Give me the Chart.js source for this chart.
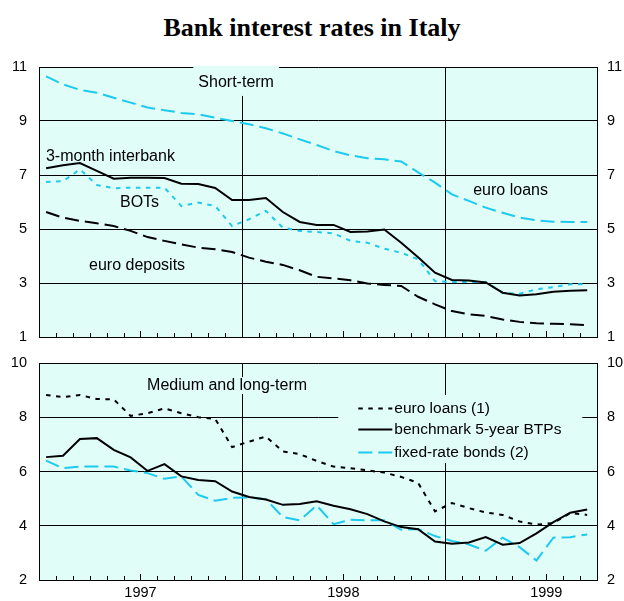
<!DOCTYPE html>
<html>
<head>
<meta charset="utf-8">
<title>Bank interest rates in Italy</title>
<script src="https://cdn.jsdelivr.net/npm/chart.js@4.4.1/dist/chart.umd.min.js"></script>
<style>
  html, body { margin: 0; padding: 0; background: #ffffff; }
  #wrap { position: relative; width: 624px; height: 601px; overflow: hidden; }
  #wrap canvas { position: absolute; left: 0; top: 0; }
  #title {
    position: absolute; left: 0; top: 13px; width: 624px;
    text-align: center; font: bold 26px "Liberation Serif", "Times New Roman", serif;
    line-height: 30px; color: #000;
  }
</style>
</head>
<body>
<div id="wrap">
  <div id="title">Bank interest rates in Italy</div>
  <canvas id="shortTerm" width="624" height="601"></canvas>
  <canvas id="longTerm" width="624" height="601"></canvas>
</div>
<script>
// Monthly observations, January 1997 to September 1999
const monthCount = 33;
const yearLabels = ['1997', '1998', '1999'];
const yearMidMonths = [6, 18, 30];
const yearBoundaries = [12, 24];

// Short-term rates (%)
const euroLoansShort = [10.65, 10.36, 10.15, 10.05, 9.86, 9.68, 9.50, 9.40, 9.30, 9.25, 9.12, 9.00,
                        8.88, 8.73, 8.54, 8.32, 8.11, 7.89, 7.73, 7.62, 7.58, 7.50, 7.10,
                        6.72, 6.28, 6.04, 5.79, 5.60, 5.42, 5.32, 5.27, 5.26, 5.26];
const interbank3m    = [7.25, 7.36, 7.44, 7.15, 6.86, 6.90, 6.90, 6.89, 6.68, 6.67, 6.52, 6.07,
                        6.07, 6.15, 5.63, 5.26, 5.15, 5.15, 4.89, 4.91, 4.98, 4.49, 3.95,
                        3.38, 3.11, 3.09, 3.02, 2.64, 2.54, 2.58, 2.68, 2.71, 2.73];
const bots           = [6.74, 6.77, 7.21, 6.63, 6.51, 6.53, 6.53, 6.53, 5.85, 5.98, 5.85, 5.11,
                        5.36, 5.67, 5.05, 4.93, 4.89, 4.84, 4.56, 4.49, 4.27, 4.12, 3.88,
                        3.07, 3.04, 3.04, 3.04, 2.64, 2.60, 2.77, 2.85, 2.95, 2.95];
const euroDeposits   = [5.63, 5.42, 5.30, 5.21, 5.11, 4.93, 4.70, 4.56, 4.43, 4.31, 4.25, 4.15,
                        3.94, 3.79, 3.67, 3.47, 3.23, 3.17, 3.10, 2.98, 2.93, 2.89, 2.49,
                        2.21, 1.96, 1.84, 1.78, 1.65, 1.56, 1.51, 1.49, 1.47, 1.44];

// Medium and long-term rates (%)
const euroLoansLong  = [8.82, 8.74, 8.82, 8.67, 8.66, 8.05, 8.15, 8.33, 8.15, 8.00, 7.94, 6.90,
                        7.10, 7.29, 6.74, 6.64, 6.39, 6.18, 6.12, 6.04, 5.96, 5.80, 5.58,
                        4.53, 4.84, 4.65, 4.49, 4.40, 4.16, 4.04, 4.10, 4.47, 4.40];
const btp5y          = [6.53, 6.58, 7.20, 7.23, 6.80, 6.52, 6.02, 6.27, 5.82, 5.69, 5.64, 5.26,
                        5.06, 4.97, 4.77, 4.80, 4.90, 4.74, 4.61, 4.43, 4.16, 3.95, 3.87,
                        3.42, 3.34, 3.38, 3.58, 3.30, 3.36, 3.72, 4.13, 4.48, 4.60];
const fixedRateBonds = [6.40, 6.12, 6.18, 6.18, 6.18, 6.04, 5.94, 5.73, 5.82, 5.14, 4.92, 5.03,
                        5.04, 4.98, 4.32, 4.20, 4.75, 4.06, 4.22, 4.20, 4.20, 3.85, 3.88,
                        3.62, 3.44, 3.31, 3.08, 3.56, 3.21, 2.72, 3.56, 3.58, 3.68];

const PANEL_BG = '#e1fdf8';
const CYAN = '#1ccaee';
const BLACK = '#000000';
const SANS = '"Liberation Sans", Arial, sans-serif';
const DASH = [14, 6];
const DOT = [4.5, 5.5];

// Background, year dividers, inside month ticks, text labels and key
const panelDecor = {
  id: 'panelDecor',
  beforeDraw(chart) {
    const { ctx, chartArea: a } = chart;
    ctx.save();
    ctx.fillStyle = PANEL_BG;
    ctx.fillRect(a.left, a.top, a.right - a.left, a.bottom - a.top);
    ctx.restore();
  },
  beforeDatasetsDraw(chart) {
    const { ctx, chartArea: a, scales: { x } } = chart;
    ctx.save();
    ctx.strokeStyle = BLACK;
    ctx.lineWidth = 1;
    ctx.beginPath();
    yearBoundaries.forEach(m => {
      const px = Math.round(x.getPixelForValue(m)) + 0.5;
      ctx.moveTo(px, a.top);
      ctx.lineTo(px, a.bottom);
    });
    for (let m = 1; m < monthCount; m++) {
      if (yearBoundaries.includes(m)) continue;
      const px = Math.round(x.getPixelForValue(m)) + 0.5;
      const len = yearMidMonths.includes(m) ? 6 : 4;
      ctx.moveTo(px, a.bottom);
      ctx.lineTo(px, a.bottom - len);
    }
    ctx.stroke();
    ctx.restore();
  },
  afterDatasetsDraw(chart, args, opts) {
    const { ctx, scales: { x, y } } = chart;
    ctx.save();
    (opts.texts || []).forEach(t => {
      ctx.font = t.size + 'px ' + SANS;
      const w = ctx.measureText(t.text).width;
      const px = x.getPixelForValue(t.x);
      const py = y.getPixelForValue(t.y);
      const left = t.align === 'center' ? px - w / 2 : px;
      if (t.box) {
        ctx.fillStyle = PANEL_BG;
        ctx.fillRect(left - t.box.side, py - t.box.up, w + 2 * t.box.side, t.box.up + t.box.down);
      }
      ctx.fillStyle = BLACK;
      ctx.textBaseline = 'middle';
      ctx.textAlign = 'left';
      ctx.fillText(t.text, left, py);
    });
    const k = opts.key;
    if (k) {
      const x0 = x.getPixelForValue(k.x0), x1 = x.getPixelForValue(k.x1);
      const y0 = y.getPixelForValue(k.y0), y1 = y.getPixelForValue(k.y1);
      ctx.fillStyle = PANEL_BG;
      ctx.fillRect(x0, y0, x1 - x0, y1 - y0);
      ctx.font = k.size + 'px ' + SANS;
      ctx.textBaseline = 'middle';
      k.rows.forEach((r, i) => {
        const ds = chart.data.datasets[r];
        const ry = Math.round(y0 + k.rowOffsets[i]) + 0.5;
        ctx.strokeStyle = ds.borderColor;
        ctx.lineWidth = 2;
        ctx.setLineDash(ds.borderDash || []);
        ctx.beginPath();
        ctx.moveTo(x0 + k.sampleFrom, ry);
        ctx.lineTo(x0 + k.sampleTo, ry);
        ctx.stroke();
        ctx.setLineDash([]);
        ctx.fillStyle = BLACK;
        ctx.fillText(ds.label, x0 + k.textAt, ry);
      });
    }
    ctx.restore();
  }
};

function makePanel(id, cfg) {
  const tickFont = { family: SANS, size: 14.5 };
  return new Chart(document.getElementById(id), {
    type: 'line',
    data: {
      datasets: cfg.series.map(s => ({
        label: s.label,
        data: s.values.map((v, i) => ({ x: i + 0.42, y: v })),
        borderColor: s.color,
        borderWidth: 2,
        borderDash: s.dash,
        pointRadius: 0,
        tension: 0,
        fill: false
      }))
    },
    options: {
      responsive: false,
      animation: false,
      events: [],
      layout: { padding: { top: cfg.top, left: 0, right: 0, bottom: 0 } },
      plugins: {
        legend: { display: false },
        tooltip: { enabled: false },
        panelDecor: { texts: cfg.texts, key: cfg.key }
      },
      scales: {
        x: {
          type: 'linear', min: 0, max: monthCount,
          grid: { display: false, drawTicks: false },
          border: { display: true, color: BLACK, width: 1 },
          afterBuildTicks: s => { s.ticks = cfg.showYears ? yearMidMonths.map(v => ({ value: v })) : []; },
          ticks: {
            display: cfg.showYears, autoSkip: false, maxRotation: 0, padding: 4,
            color: BLACK, font: tickFont,
            callback: v => yearLabels[yearMidMonths.indexOf(v)]
          },
          afterFit: s => { s.height = cfg.axisHeight; }
        },
        y: {
          position: 'left', min: cfg.min, max: cfg.max,
          ticks: { stepSize: 2, padding: 12, color: BLACK, font: tickFont },
          grid: { color: BLACK, lineWidth: 1, drawTicks: false },
          border: { display: true, color: BLACK, width: 1 },
          afterFit: s => { s.width = 39; }
        },
        y2: {
          position: 'right', min: cfg.min, max: cfg.max,
          ticks: { stepSize: 2, padding: 10, color: BLACK, font: tickFont },
          grid: { display: false, drawTicks: false },
          border: { display: true, color: BLACK, width: 1 },
          afterFit: s => { s.width = 27; }
        }
      }
    },
    plugins: [panelDecor]
  });
}

makePanel('shortTerm', {
  top: 67, axisHeight: 264, min: 1, max: 11, showYears: false,
  series: [
    { label: 'euro loans', values: euroLoansShort, color: CYAN, dash: DASH },
    { label: '3-month interbank', values: interbank3m, color: BLACK, dash: [] },
    { label: 'euro deposits', values: euroDeposits, color: BLACK, dash: DASH },
    { label: 'BOTs', values: bots, color: CYAN, dash: DOT }
  ],
  texts: [
    { text: 'Short-term', x: 11.66, y: 10.41, size: 16, align: 'center', box: { side: 5, up: 17, down: 13 } },
    { text: '3-month interbank', x: 0.41, y: 7.70, size: 16 },
    { text: 'BOTs', x: 4.79, y: 5.96, size: 16 },
    { text: 'euro deposits', x: 2.96, y: 3.63, size: 16 },
    { text: 'euro loans', x: 25.68, y: 6.41, size: 16 }
  ]
});

makePanel('longTerm', {
  top: 363, axisHeight: 21, min: 2, max: 10, showYears: true,
  series: [
    { label: 'euro loans (1)', values: euroLoansLong, color: BLACK, dash: DOT },
    { label: 'benchmark 5-year BTPs', values: btp5y, color: BLACK, dash: [] },
    { label: 'fixed-rate bonds (2)', values: fixedRateBonds, color: CYAN, dash: DASH }
  ],
  texts: [
    { text: 'Medium and long-term', x: 6.39, y: 9.15, size: 16, box: { side: 3, up: 9, down: 8 } }
  ],
  key: {
    x0: 17.7, x1: 32.13, y0: 8.82, y1: 6.31, size: 15.5,
    rows: [0, 1, 2], rowOffsets: [13, 34, 57],
    sampleFrom: 20, sampleTo: 54, textAt: 56
  }
});
</script>
</body>
</html>
